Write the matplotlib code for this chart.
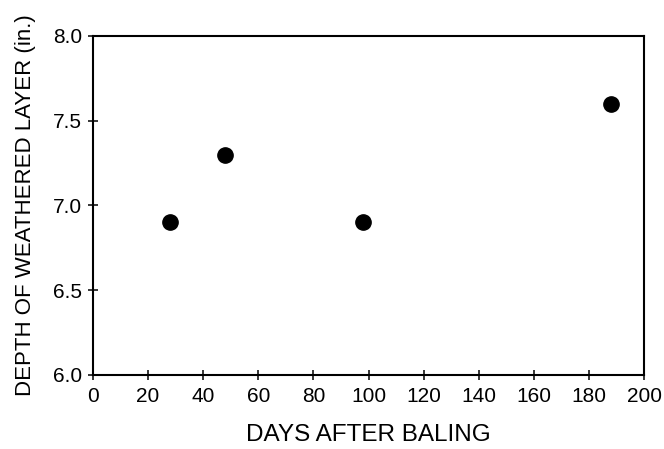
import matplotlib
matplotlib.use("Agg")
import matplotlib.pyplot as plt

days = [28, 48, 98, 188]
depth = [6.9, 7.3, 6.9, 7.6]
xticks = [0, 20, 40, 60, 80, 100, 120, 140, 160, 180, 200]
yticks = [6.0, 6.5, 7.0, 7.5, 8.0]

plt.rcParams['font.family'] = ['Liberation Sans', 'DejaVu Sans']

fig = plt.figure(figsize=(6.64, 4.49), dpi=100)
ax = fig.add_axes([0.140, 0.165, 0.830, 0.755])
ax.plot(days, depth, 'o', color='black', markersize=11, linestyle='none')
ax.set_xlim(0, 200)
ax.set_ylim(6.0, 8.0)
ax.set_xticks(xticks)
ax.set_xticklabels([str(t) for t in xticks])
ax.set_yticks(yticks)
ax.set_yticklabels([f"{t:.1f}" for t in yticks])
for s in ax.spines.values():
    s.set_linewidth(1.5)
ax.tick_params(direction='inout', length=7.5, width=1.1, labelsize=15)
ax.tick_params(axis='x', pad=5)
ax.tick_params(axis='y', pad=4)
ax.set_xlabel('DAYS AFTER BALING', fontsize=17.5, labelpad=13)
ax.set_ylabel('DEPTH OF WEATHERED LAYER (in.)', fontsize=16, labelpad=12)
fig.savefig('out.png', dpi=100)
